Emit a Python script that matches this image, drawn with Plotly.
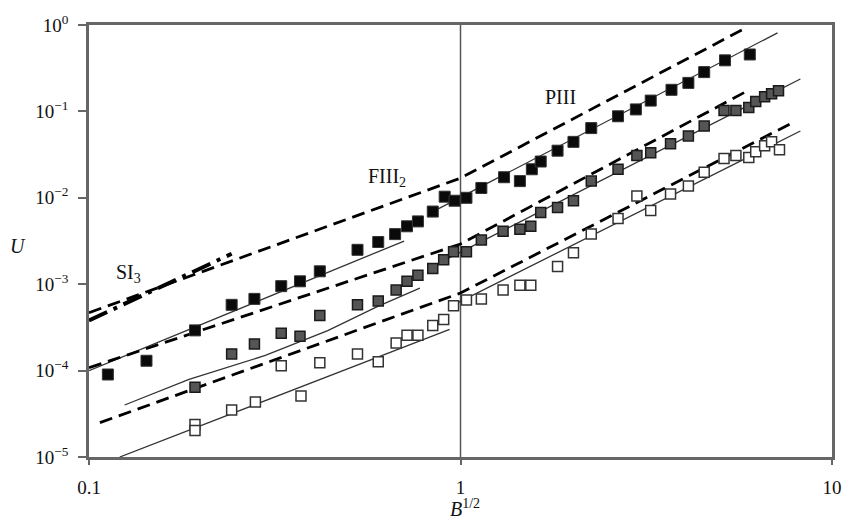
import plotly.graph_objects as go

# ---------------- data ----------------
black_x = [0.1124, 0.1428, 0.1929, 0.2421, 0.2788, 0.3292, 0.3698, 0.4181, 0.5281, 0.6006,
           0.6668, 0.7178, 0.7681, 0.8420, 0.9066, 0.9638, 1.0375, 1.138, 1.310, 1.445,
           1.556, 1.644, 1.825, 2.014, 2.249, 2.655, 2.965, 3.251, 3.698, 4.106,
           4.529, 5.152, 6.008]
black_y = [9.01e-5, 1.30e-4, 2.92e-4, 5.77e-4, 6.76e-4, 9.49e-4, 1.08e-3, 1.41e-3, 2.50e-3, 3.08e-3,
           3.80e-3, 4.68e-3, 5.33e-3, 6.93e-3, 1.03e-2, 9.25e-3, 1.00e-2, 1.30e-2, 1.73e-2, 1.56e-2,
           2.14e-2, 2.63e-2, 3.51e-2, 4.44e-2, 6.41e-2, 8.78e-2, 0.1054, 0.1334, 0.1778, 0.2137,
           0.285, 0.390, 0.456]

gray_x = [0.1929, 0.2421, 0.2788, 0.3292, 0.3698, 0.4181, 0.5281, 0.6006, 0.6711, 0.7178,
          0.7681, 0.8420, 0.9010, 0.9579, 1.0375, 1.138, 1.302, 1.445, 1.546, 1.644,
          1.825, 2.014, 2.249, 2.655, 2.984, 3.251, 3.676, 4.106, 4.529, 5.121,
          5.512, 5.970, 6.233, 6.587, 6.877, 7.178]
gray_y = [6.41e-5, 1.56e-4, 2.03e-4, 2.70e-4, 2.50e-4, 4.33e-4, 5.77e-4, 6.41e-4, 8.55e-4, 1.08e-3,
          1.27e-3, 1.52e-3, 1.92e-3, 2.37e-3, 2.37e-3, 3.25e-3, 4.11e-3, 4.33e-3, 4.68e-3, 6.76e-3,
          7.70e-3, 9.25e-3, 1.56e-2, 2.14e-2, 3.08e-2, 3.33e-2, 4.22e-2, 5.20e-2, 6.76e-2, 0.1026,
          0.1026, 0.1110, 0.130, 0.148, 0.160, 0.173]

white_x = [0.1929, 0.1929, 0.2421, 0.2805, 0.3292, 0.3721, 0.4181, 0.5281, 0.6006, 0.6711,
           0.7178, 0.7681, 0.8420, 0.9010, 0.9579, 1.0375, 1.138, 1.302, 1.445, 1.546,
           1.825, 2.014, 2.249, 2.655, 2.984, 3.251, 3.676, 4.106, 4.529, 5.121,
           5.512, 5.970, 6.233, 6.587, 6.877, 7.222]
white_y = [2.37e-5, 2.03e-5, 3.51e-5, 4.33e-5, 1.14e-4, 5.07e-5, 1.23e-4, 1.56e-4, 1.27e-4, 2.08e-4,
           2.56e-4, 2.56e-4, 3.33e-4, 3.90e-4, 5.62e-4, 6.58e-4, 6.76e-4, 8.55e-4, 9.75e-4, 9.75e-4,
           1.60e-3, 2.31e-3, 3.80e-3, 5.77e-3, 1.05e-2, 7.12e-3, 1.11e-2, 1.37e-2, 1.97e-2, 2.85e-2,
           3.08e-2, 2.92e-2, 3.42e-2, 4.00e-2, 4.44e-2, 3.61e-2]

# solid fit lines
black_fit1_x = [0.1, 0.705]
black_fit1_y = [1.0e-4, 3.16e-3]
black_fit2_x = [0.863, 7.135]
black_fit2_y = [7.31e-3, 0.811]
gray_fit1_x = [0.1247, 0.1859, 0.2983, 0.4392, 0.597, 0.7774]
gray_fit1_y = [4.0e-5, 7.9e-5, 1.50e-4, 2.90e-4, 5.5e-4, 9.0e-4]
gray_fit2_x = [0.890, 8.22]
gray_fit2_y = [1.82e-3, 0.237]
white_fit1_x = [0.121, 0.935]
white_fit1_y = [1.0e-5, 3.0e-4]
white_fit2_x = [0.946, 8.22]
white_fit2_y = [5.62e-4, 0.0593]

# dashed model lines
si3_x = [0.1, 0.2421]
si3_y = [3.8e-4, 2.25e-3]
d1_x = [0.1, 1.0, 5.86]
d1_y = [4.68e-4, 0.0169, 0.925]
d2_x = [0.1, 1.0, 5.86]
d2_y = [1.08e-4, 2.92e-3, 0.169]
d3_x = [0.107, 1.0, 7.78]
d3_y = [2.5e-5, 7.9e-4, 0.073]

y_tickvals = [1e-5, 1e-4, 1e-3, 1e-2, 1e-1, 1]
y_ticktext = ["10<sup>−5</sup>", "10<sup>−4</sup>", "10<sup>−3</sup>",
              "10<sup>−2</sup>", "10<sup>−1</sup>", "10<sup>0</sup>"]
x_tickvals = [0.1, 1, 10]
x_ticktext = ["0.1", "1", "10"]

FONT = "Liberation Serif, Times New Roman, serif"

fig = go.Figure()

def solid(x, y):
    fig.add_trace(go.Scatter(x=x, y=y, mode="lines",
                             line=dict(color="#333333", width=1.3),
                             showlegend=False, hoverinfo="skip"))

def dashed(x, y, width=2.8, dash="13px,7px"):
    fig.add_trace(go.Scatter(x=x, y=y, mode="lines",
                             line=dict(color="#000000", width=width, dash=dash),
                             showlegend=False, hoverinfo="skip"))

for fx, fy in [(black_fit1_x, black_fit1_y), (black_fit2_x, black_fit2_y),
               (gray_fit1_x, gray_fit1_y), (gray_fit2_x, gray_fit2_y),
               (white_fit1_x, white_fit1_y), (white_fit2_x, white_fit2_y)]:
    solid(fx, fy)

dashed(si3_x, si3_y, width=4, dash="20px,7px,4px,7px")
dashed(d1_x, d1_y)
dashed(d2_x, d2_y)
dashed(d3_x, d3_y)

fig.add_trace(go.Scatter(x=black_x, y=black_y, mode="markers",
                         marker=dict(symbol="square", size=11, color="#0a0a0a",
                                     line=dict(color="#333333", width=1)),
                         showlegend=False))
fig.add_trace(go.Scatter(x=gray_x, y=gray_y, mode="markers",
                         marker=dict(symbol="square", size=10, color="#555555",
                                     line=dict(color="#1a1a1a", width=1.5)),
                         showlegend=False))
fig.add_trace(go.Scatter(x=white_x, y=white_y, mode="markers",
                         marker=dict(symbol="square", size=10, color="#ffffff",
                                     line=dict(color="#333333", width=1.5)),
                         showlegend=False))

# vertical reference line at B^1/2 = 1
fig.add_shape(type="line", xref="x", yref="paper", x0=1, x1=1, y0=0, y1=1,
              line=dict(color="#555555", width=1.5), layer="below")

fig.update_xaxes(type="log", range=[-1, 1], tickvals=x_tickvals, ticktext=x_ticktext,
                 showgrid=False, zeroline=False, showline=True, mirror=True,
                 linecolor="#666666", linewidth=2.5,
                 ticks="outside", ticklen=5, tickwidth=2, tickcolor="#666666",
                 ticklabelstandoff=6,
                 tickfont=dict(family=FONT, size=19, color="#111111"))
fig.update_yaxes(type="log", range=[-5, 0], tickvals=y_tickvals, ticktext=y_ticktext,
                 showgrid=False, zeroline=False, showline=True, mirror=True,
                 linecolor="#666666", linewidth=2.5,
                 ticks="outside", ticklen=8, tickwidth=2, tickcolor="#666666",
                 ticklabelstandoff=6,
                 tickfont=dict(family=FONT, size=19, color="#111111"))

ann_font = dict(family=FONT, size=20, color="#111111")

def label(x, y, text, font):
    fig.add_annotation(x=x, y=y, xref="paper", yref="paper", text=text,
                       showarrow=False, font=font, xanchor="center", yanchor="middle")

label(0.053, 0.425, "SI<sub>3</sub>", ann_font)
label(0.401, 0.648, "FIII<sub>2</sub>", ann_font)
label(0.635, 0.834, "PIII", ann_font)
label(0.506, -0.118, "<i>B</i><sup>1/2</sup>", dict(family=FONT, size=20, color="#111111"))
label(-0.096, 0.489, "<i>U</i>", dict(family=FONT, size=20, color="#111111"))

fig.update_layout(width=854, height=523,
                  margin=dict(l=89, r=12, t=17, b=66),
                  plot_bgcolor="white", paper_bgcolor="white",
                  showlegend=False)

fig.write_html("out.html")
